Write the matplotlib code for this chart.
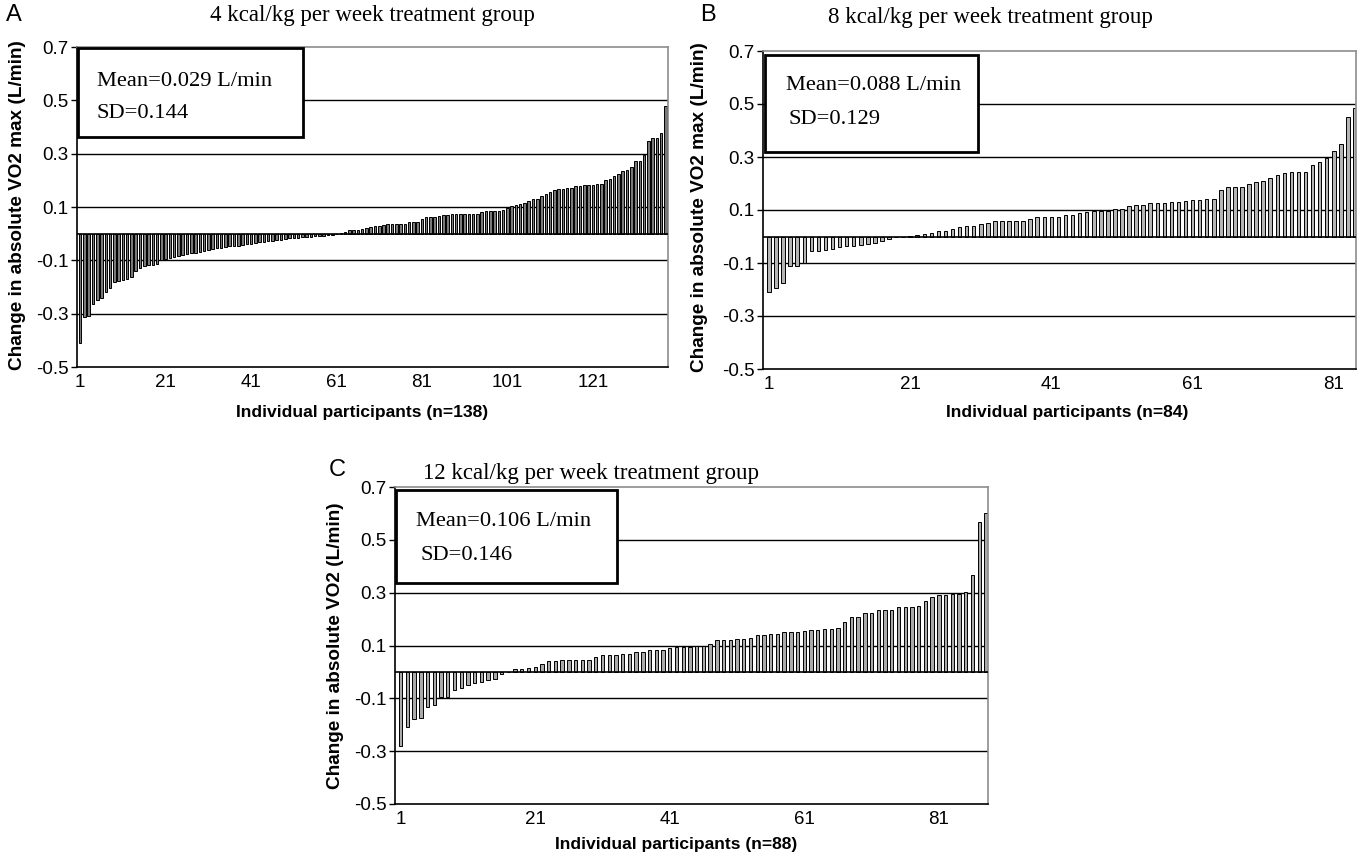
import matplotlib
matplotlib.use('Agg')
import matplotlib.pyplot as plt
from matplotlib.patches import Rectangle

W, H = 1359, 861

# ---------------- data ----------------
a_vals = [-0.409, -0.312, -0.309, -0.265, -0.249, -0.240, -0.218, -0.203, -0.180, -0.178,
          -0.174, -0.169, -0.163, -0.140, -0.128, -0.123, -0.119, -0.118, -0.115, -0.100,
          -0.094, -0.091, -0.088, -0.084, -0.081, -0.078, -0.074, -0.071, -0.068, -0.065,
          -0.061, -0.059, -0.055, -0.053, -0.050,
          -0.048, -0.046, -0.045, -0.043, -0.040, -0.037, -0.035, -0.033, -0.030, -0.028,
          -0.026, -0.024, -0.022, -0.020, -0.018, -0.017, -0.015, -0.014, -0.012, -0.011,
          -0.009, -0.008, -0.007, -0.006, -0.005, -0.003,
          0.003, 0.005, 0.012, 0.015, 0.015, 0.018, 0.020, 0.025, 0.028, 0.030,
          0.033, 0.037, 0.037, 0.037, 0.037, 0.038, 0.042, 0.042, 0.045, 0.055,
          0.062, 0.062, 0.062, 0.065, 0.070, 0.071, 0.072, 0.075, 0.075, 0.075,
          0.075, 0.075, 0.075, 0.080, 0.085, 0.085, 0.085, 0.085, 0.088, 0.095,
          0.105, 0.107, 0.110,
          0.116, 0.121, 0.129, 0.129, 0.142, 0.147, 0.158, 0.163, 0.167, 0.167,
          0.172, 0.172, 0.178, 0.178, 0.183, 0.183, 0.183, 0.187, 0.187, 0.200,
          0.204, 0.218, 0.224, 0.234, 0.238, 0.249, 0.271, 0.273, 0.296, 0.347,
          0.358, 0.357, 0.378, 0.477]

b_vals = [-0.210, -0.196, -0.174, -0.110, -0.110, -0.100, -0.056, -0.056, -0.052, -0.046,
          -0.040, -0.037, -0.036, -0.031, -0.030, -0.024, -0.016, -0.011, 0.000, 0.000,
          0.002, 0.004, 0.010, 0.014, 0.019, 0.019, 0.029, 0.036,
          0.041, 0.041, 0.046, 0.052, 0.058, 0.058, 0.058, 0.060, 0.060, 0.065,
          0.074, 0.074, 0.074, 0.074, 0.081, 0.081, 0.087, 0.094, 0.098, 0.098,
          0.098, 0.105, 0.105, 0.114, 0.120, 0.120, 0.127, 0.127, 0.127, 0.130,
          0.130, 0.135,
          0.136, 0.138, 0.140, 0.142, 0.175, 0.185, 0.188, 0.188, 0.200, 0.205,
          0.208, 0.220, 0.233, 0.238, 0.245, 0.245, 0.245, 0.270, 0.283, 0.297,
          0.322, 0.350, 0.450, 0.485]

c_vals = [-0.280, -0.210, -0.178, -0.174, -0.134, -0.125, -0.096, -0.096, -0.067, -0.060,
          -0.050, -0.042, -0.038, -0.029, -0.025, -0.006, 0.000, 0.011, 0.011, 0.015,
          0.019, 0.030, 0.040, 0.040, 0.046, 0.046, 0.046, 0.046, 0.046, 0.055,
          0.064, 0.064, 0.064, 0.069, 0.069, 0.074, 0.074, 0.084, 0.084, 0.084,
          0.090, 0.094, 0.094, 0.094, 0.097, 0.097, 0.107, 0.120, 0.120, 0.120,
          0.125, 0.125, 0.128, 0.139, 0.139, 0.142, 0.142, 0.151, 0.151, 0.151,
          0.155, 0.159, 0.159, 0.162, 0.162, 0.168, 0.188, 0.209, 0.209, 0.224,
          0.224, 0.234, 0.234, 0.234, 0.244, 0.244, 0.244, 0.248, 0.270, 0.283,
          0.291, 0.291, 0.296, 0.296, 0.304, 0.365, 0.569, 0.603]

titles = ["4 kcal/kg per week treatment group",
          "8 kcal/kg per week treatment group",
          "12 kcal/kg per week treatment group"]
letters = ["A", "B", "C"]
ylabels = ["Change in absolute VO2 max (L/min)",
           "Change in absolute VO2 max (L/min)",
           "Change in absolute VO2 (L/min)"]
xlabels = ["Individual participants (n=138)",
           "Individual participants (n=84)",
           "Individual participants (n=88)"]
mean_texts = ["Mean=0.029 L/min", "Mean=0.088 L/min", "Mean=0.106 L/min"]
sd_texts = ["SD=0.144", "SD=0.129", "SD=0.146"]
ytick_vals = [-0.5, -0.3, -0.1, 0.1, 0.3, 0.5, 0.7]
ytick_labels = ["-0.5", "-0.3", "-0.1", "0.1", "0.3", "0.5", "0.7"]
xticks_a = [1, 21, 41, 61, 81, 101, 121]
xticks_bc = [1, 21, 41, 61, 81]

# ---------------- layout ----------------
panels = [
    dict(vals=a_vals, xt=xticks_a, rect=(77, 47, 668, 367), width=0.6, fc='#7a7a7a',
         xpad=(0.75, 0.6), title_xy=(372, 15), letter_xy=(14, 15),
         ylab_xy=(18, 205), xlab_xy=(362, 412),
         box=(78, 48, 303, 137), mean_xy=(97, 81), sd_xy=(97, 114)),
    dict(vals=b_vals, xt=xticks_bc, rect=(763, 51, 1356, 369), width=0.5, fc='#b5b5b5',
         xpad=(0.85, 0.15), title_xy=(990, 17), letter_xy=(708, 15),
         ylab_xy=(700, 207), xlab_xy=(1067, 412),
         box=(765, 55, 978, 152), mean_xy=(786, 86), sd_xy=(788, 120)),
    dict(vals=c_vals, xt=xticks_bc, rect=(395, 487, 988, 804), width=0.5, fc='#aaaaaa',
         xpad=(0.85, 0.3), title_xy=(591, 473), letter_xy=(337, 470),
         ylab_xy=(336, 646), xlab_xy=(676, 845),
         box=(396, 490, 617, 583), mean_xy=(416, 521), sd_xy=(420, 555)),
]

fig = plt.figure(figsize=(W / 100, H / 100), dpi=100)
fig.patch.set_facecolor('white')


def fx(x):
    return x / W


def fy(y):
    return 1 - y / H


serif = ['Liberation Serif', 'DejaVu Serif']
sans = ['Liberation Sans', 'DejaVu Sans']

for i, p in enumerate(panels):
    l, t, r, b = p['rect']
    ax = fig.add_axes([fx(l), fy(b), (r - l) / W, (b - t) / H])
    vals = p['vals']
    n = len(vals)
    x = list(range(1, n + 1))
    ax.bar(x, vals, width=p['width'], color=p['fc'], edgecolor='black',
           linewidth=0.7, zorder=2)
    for g in [-0.3, -0.1, 0.1, 0.3, 0.5]:
        ax.axhline(g, color='black', lw=1.0, zorder=1)
    ax.axhline(0, color='black', lw=1.2, zorder=3)
    ax.set_ylim(-0.5, 0.7)
    ax.set_xlim(1 - p['xpad'][0], n + p['xpad'][1])
    ax.set_yticks(ytick_vals)
    ax.set_yticklabels(ytick_labels, fontfamily=sans, fontsize=13.5)
    ax.set_xticks(p['xt'])
    ax.set_xticklabels([str(v) for v in p['xt']], fontfamily=sans, fontsize=13.5)
    ax.tick_params(axis='y', direction='out', length=4, width=1, pad=2)
    ax.tick_params(axis='x', direction='out', length=0, pad=5)
    for s in ['left', 'bottom']:
        ax.spines[s].set_color('black')
        ax.spines[s].set_linewidth(1.2)
    for s in ['top', 'right']:
        ax.spines[s].set_color('#8c8c8c')
        ax.spines[s].set_linewidth(1.2)

    # annotation box
    bl, bt, br, bb = p['box']
    fig.patches.append(Rectangle((fx(bl), fy(bb)), (br - bl) / W, (bb - bt) / H,
                                 transform=fig.transFigure, facecolor='white',
                                 edgecolor='black', linewidth=2, zorder=5))
    fig.text(fx(p['mean_xy'][0]), fy(p['mean_xy'][1]), mean_texts[i], family=serif,
             fontsize=16.2, ha='left', va='center', zorder=6)
    fig.text(fx(p['sd_xy'][0]), fy(p['sd_xy'][1]), sd_texts[i], family=serif,
             fontsize=16.2, ha='left', va='center', zorder=6)

    fig.text(fx(p['title_xy'][0]), fy(p['title_xy'][1]), titles[i], family=serif,
             fontsize=16.5, ha='center', va='center')
    fig.text(fx(p['letter_xy'][0]), fy(p['letter_xy'][1]), letters[i], family=sans,
             fontsize=17, ha='center', va='center')
    fig.text(fx(p['ylab_xy'][0]), fy(p['ylab_xy'][1]), ylabels[i], family=sans,
             fontsize=13.7, fontweight='bold', rotation=90, ha='center', va='center')
    fig.text(fx(p['xlab_xy'][0]), fy(p['xlab_xy'][1]), xlabels[i], family=sans,
             fontsize=12.6, fontweight='bold', ha='center', va='center')

fig.savefig('out.png', dpi=100, facecolor='white')
